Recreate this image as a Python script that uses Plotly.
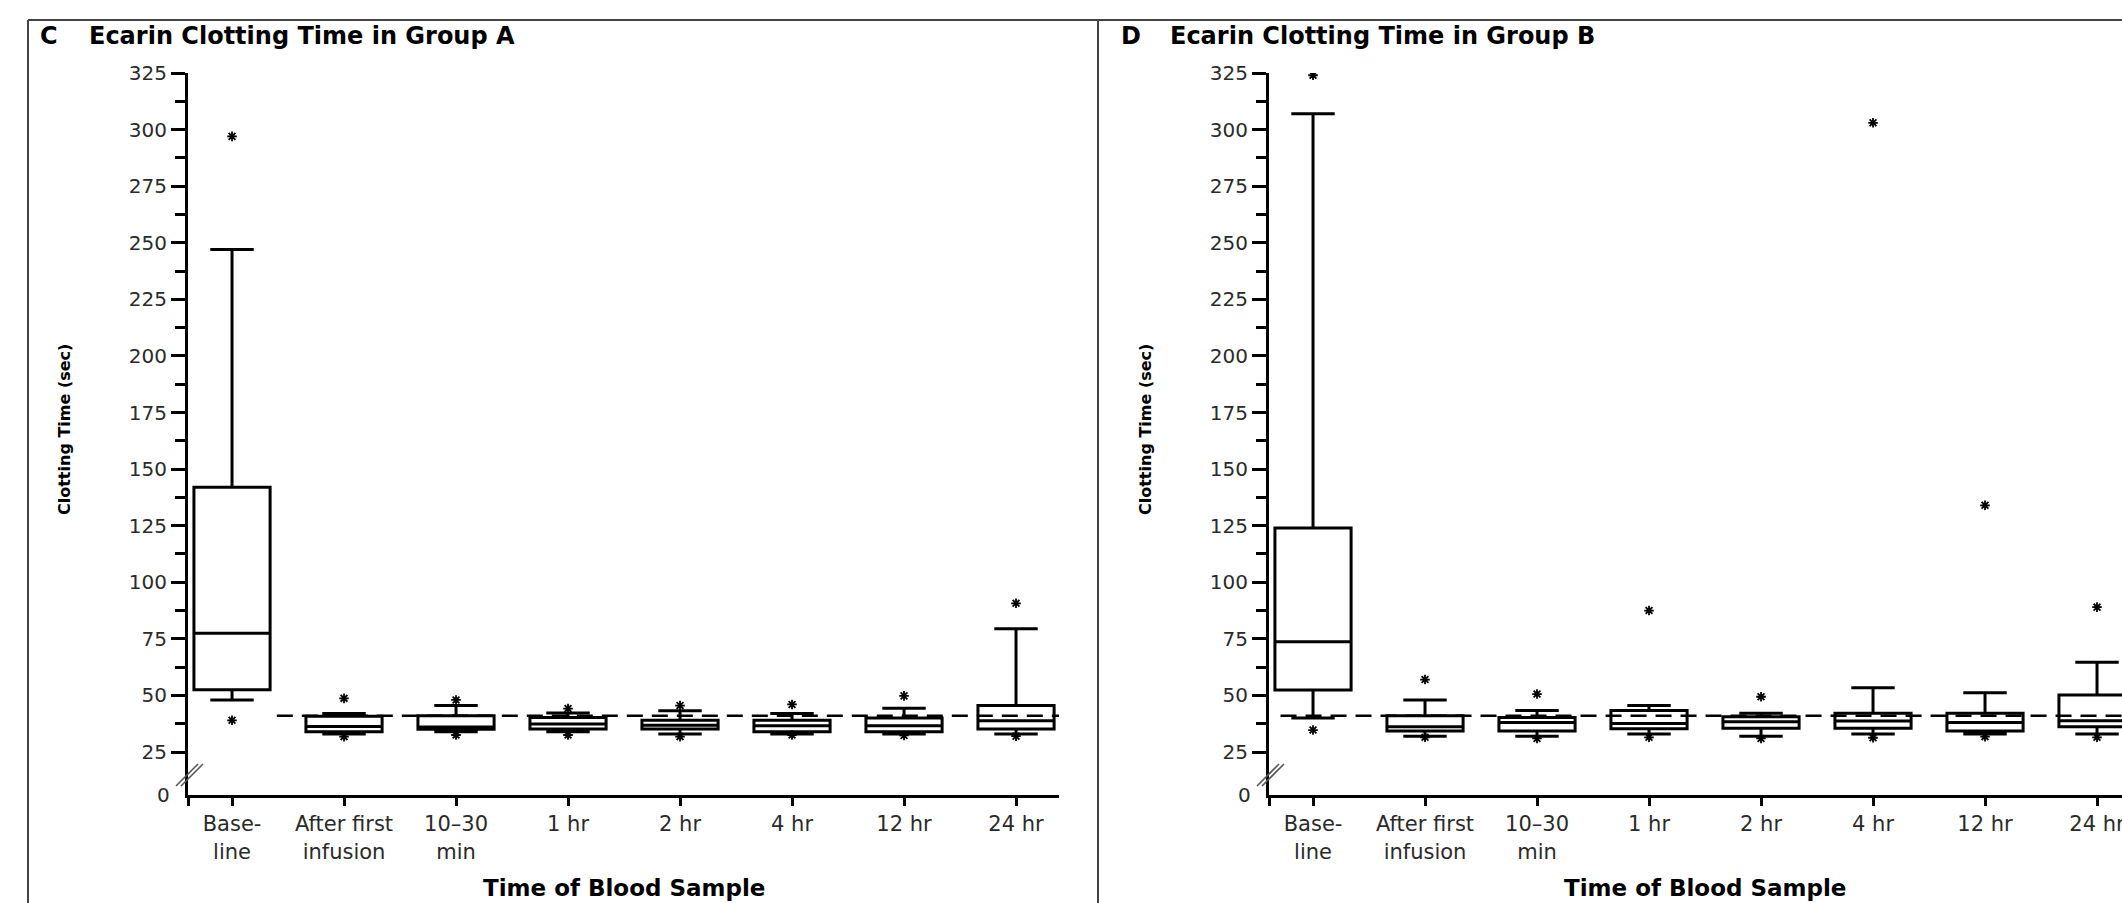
import plotly.graph_objects as go

W, H = 2122, 903

# ---------------- data ----------------
categories = ["Base-<br>line", "After first<br>infusion", "10–30<br>min", "1 hr",
              "2 hr", "4 hr", "12 hr", "24 hr"]

# Group A (panel C)
a_lowerfence = [48, 33, 34, 34, 33, 33, 33, 33]
a_q1 = [52.5, 34, 35, 35.2, 35.2, 34, 34, 35.2]
a_median = [77.5, 36.3, 36, 37.4, 36.8, 36.6, 36.6, 38.8]
a_q3 = [142, 40.8, 41, 40.2, 39, 39, 40, 45.5]
a_upperfence = [247, 42, 45.5, 42.2, 43.2, 42, 44.3, 79.4]
a_outliers_x = [0, 0, 1, 1, 2, 2, 3, 3, 4, 4, 5, 5, 6, 6, 7, 7]
a_outliers_y = [297, 39, 48.7, 31.8, 48, 32.5, 44.2, 32.5, 45.5, 31.8, 46, 32.5, 49.8, 32.3, 90.7, 32]

# Group B (panel D)
b_lowerfence = [40, 32, 32, 33, 32, 33, 33, 33]
b_q1 = [52.4, 34.3, 34.3, 35.3, 35.5, 35.5, 34.3, 36.2]
b_median = [73.7, 36.2, 38, 37.6, 38.4, 38.7, 38, 38.8]
b_q3 = [124, 41, 40.2, 43.3, 40.6, 42.1, 42.1, 50.2]
b_upperfence = [307, 48, 43.3, 45.5, 42.1, 53.4, 51.2, 64.6]
b_outliers_x = [0, 0, 1, 1, 2, 2, 3, 3, 4, 4, 5, 5, 6, 6, 7, 7]
b_outliers_y = [324, 34.7, 57, 31.5, 50.6, 31, 87.5, 31.5, 49.4, 31, 303, 31.3, 134, 31.8, 89, 31.5]

reference_level = 41
y_major_ticks = [25, 50, 75, 100, 125, 150, 175, 200, 225, 250, 275, 300, 325]
y_minor_ticks = [37.5, 62.5, 87.5, 112.5, 137.5, 162.5, 187.5, 212.5, 237.5, 262.5, 287.5, 312.5]
y_zero_label_value = 6   # position of the "0" label below the axis break

# ---------------- layout helpers ----------------
def px_x(p):
    return p / W

def px_y(p):
    return 1 - p / H

FONT = "DejaVu Sans"
TXT = "#2a2a2a"

fig = go.Figure()

panels = [
    dict(xa="x", ya="y", off=0, letter="C", title="Ecarin Clotting Time in Group A",
         lf=a_lowerfence, q1=a_q1, med=a_median, q3=a_q3, uf=a_upperfence,
         ox=a_outliers_x, oy=a_outliers_y, dash_start=0.4),
    dict(xa="x2", ya="y2", off=1081, letter="D", title="Ecarin Clotting Time in Group B",
         lf=b_lowerfence, q1=b_q1, med=b_median, q3=b_q3, uf=b_upperfence,
         ox=b_outliers_x, oy=b_outliers_y, dash_start=-0.29),
]

spacing = 112.0
x0_rng = -0.393
shapes = []
annotations = []

for i, p in enumerate(panels):
    off = p["off"]
    left = 188 + off
    right = min(1059 + off, W)
    x1_rng = x0_rng + (right - left) / spacing

    # dashed reference line
    fig.add_trace(go.Scatter(
        x=[p["dash_start"], 7.384], y=[reference_level, reference_level],
        mode="lines", line=dict(color="black", width=2.5, dash="16px,9px"),
        xaxis=p["xa"], yaxis=p["ya"], hoverinfo="skip", showlegend=False))

    # boxes
    fig.add_trace(go.Box(
        x=list(range(len(categories))), q1=p["q1"], median=p["med"], q3=p["q3"],
        lowerfence=p["lf"], upperfence=p["uf"], width=0.68, whiskerwidth=0.57,
        line=dict(color="black", width=3), fillcolor="rgba(0,0,0,0)",
        boxpoints=False, xaxis=p["xa"], yaxis=p["ya"], showlegend=False))

    # outliers
    fig.add_trace(go.Scatter(
        x=p["ox"], y=p["oy"], mode="markers",
        marker=dict(symbol="asterisk-open", size=8, color="black",
                    line=dict(color="black", width=1.8)),
        xaxis=p["xa"], yaxis=p["ya"], showlegend=False, hoverinfo="skip"))

    xname = "xaxis" if i == 0 else "xaxis2"
    yname = "yaxis" if i == 0 else "yaxis2"
    fig.layout[xname] = dict(
        domain=[px_x(left), px_x(right)], range=[x0_rng, x1_rng],
        anchor=p["ya"], showgrid=False, zeroline=False, showline=True,
        linecolor="black", linewidth=3, ticks="outside", ticklen=8, tickwidth=3,
        tickcolor="black", tickvals=[x0_rng + 0.002] + list(range(len(categories))),
        ticktext=[""] + categories, tickfont=dict(family=FONT, size=21, color=TXT),
        ticklabeloverflow="allow",
        automargin=False, fixedrange=True)
    fig.layout[yname] = dict(
        domain=[px_y(795), px_y(73)], range=[y_zero_label_value, 325],
        anchor=p["xa"], showgrid=False, zeroline=False, showline=True,
        linecolor="black", linewidth=3, ticks="outside", ticklen=14, tickwidth=3,
        tickcolor="black", tickvals=y_major_ticks,
        ticktext=[str(v) for v in y_major_ticks],
        tickfont=dict(family=FONT, size=20, color=TXT),
        minor=dict(tickvals=y_minor_ticks, ticklen=10, tickwidth=3,
                   tickcolor="black", ticks="outside"),
        automargin=False, fixedrange=True)

    # "0" label under the axis break
    annotations.append(dict(text="0", xref="paper", yref=p["ya"],
                            x=px_x(172 + off), y=y_zero_label_value,
                            xanchor="right", yanchor="middle", showarrow=False,
                            font=dict(family=FONT, size=20, color=TXT)))
    # axis break marks
    for dx in (0, 5):
        shapes.append(dict(type="line", xref="paper", yref="paper",
                           x0=px_x(176 + dx + off), y0=px_y(786),
                           x1=px_x(198 + dx + off), y1=px_y(764),
                           line=dict(color="#555", width=1.6)))
    # panel letter and title
    annotations.append(dict(text=p["letter"], xref="paper", yref="paper",
                            x=px_x(38 + off), y=px_y(36), xanchor="left", yanchor="middle",
                            showarrow=False,
                            font=dict(family=FONT, size=24, color="black", weight="bold")))
    annotations.append(dict(text=p["title"], xref="paper", yref="paper",
                            x=px_x(87 + off), y=px_y(36), xanchor="left", yanchor="middle",
                            showarrow=False,
                            font=dict(family=FONT, size=24, color="black", weight="bold")))
    # axis titles
    annotations.append(dict(text="Clotting Time (sec)", xref="paper", yref="paper",
                            x=px_x(64 + off), y=px_y(430), textangle=-90,
                            xanchor="center", yanchor="middle", showarrow=False,
                            font=dict(family=FONT, size=16, color="black", weight="bold")))
    annotations.append(dict(text="Time of Blood Sample", xref="paper", yref="paper",
                            x=px_x(624 + off), y=px_y(888), xanchor="center",
                            yanchor="middle", showarrow=False,
                            font=dict(family=FONT, size=23, color="black", weight="bold")))

# panel frame
frame = dict(color="#444", width=2)
shapes.append(dict(type="line", xref="paper", yref="paper", x0=px_x(28), x1=1,
                   y0=px_y(20), y1=px_y(20), line=frame))
shapes.append(dict(type="line", xref="paper", yref="paper", x0=px_x(28), x1=px_x(28),
                   y0=px_y(20), y1=0, line=frame))
shapes.append(dict(type="line", xref="paper", yref="paper", x0=px_x(1098), x1=px_x(1098),
                   y0=px_y(20), y1=0, line=frame))

fig.update_layout(
    width=W, height=H, margin=dict(l=0, r=0, t=0, b=0, pad=0),
    paper_bgcolor="white", plot_bgcolor="white", showlegend=False,
    shapes=shapes, annotations=annotations,
    font=dict(family=FONT, color=TXT))

fig.write_html("out.html")
